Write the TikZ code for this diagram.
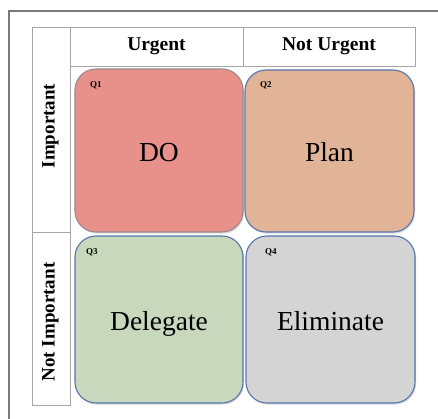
\documentclass[tikz,border=0pt]{standalone}
\usepackage{fontspec}
\setmainfont{Liberation Serif}
\usetikzlibrary{shadows}
\definecolor{frameg}{HTML}{7A7A7A}
\definecolor{tableg}{HTML}{A6A6A6}
\definecolor{qoneF}{HTML}{E8908A}
\definecolor{qtwoF}{HTML}{E1B498}
\definecolor{qthreeF}{HTML}{C8D8BD}
\definecolor{qfourF}{HTML}{D4D4D4}
\definecolor{qblue}{HTML}{5676AE}
\definecolor{qgrey}{HTML}{9A8A8A}
\tikzset{
  cellbox/.style={draw=tableg, line width=0.9pt, inner sep=0pt, font=\bfseries\fontsize{19.5}{20}\selectfont},
  quad/.style={rounded corners=21pt, line width=1.1pt, inner sep=0pt,
    drop shadow={shadow xshift=1.2pt, shadow yshift=-1.6pt, opacity=0.28},
    text height=22pt, text depth=0pt,
    font=\fontsize{27.5}{28}\selectfont},
  qlabel/.style={anchor=base west, inner sep=0pt, font=\bfseries\fontsize{9}{10}\selectfont}
}
\begin{document}
\begin{tikzpicture}[x=1pt,y=1pt]
\useasboundingbox (0,0) rectangle (438,-419);
\fill[white] (0,0) rectangle (438,-419);
% outer frame (only top and left edges visible)
\coordinate (fbl) at (9,-419);
\coordinate (ftl) at (9,-11);
\coordinate (ftr) at (438,-11);
\draw[frameg, line width=1.6pt] (fbl) -- (ftl) -- (ftr);
% header cells
\node[cellbox, minimum width=173pt, minimum height=39pt] (urg) at (156.5,-46.5) {Urgent};
\node[cellbox, minimum width=172pt, minimum height=39pt] (nurg) at (329,-46.5) {Not Urgent};
% side cells
\node[cellbox, minimum width=38pt, minimum height=205pt] (imp) at (51,-129.5) {};
\node[cellbox, minimum width=38pt, minimum height=173pt] (nimp) at (51,-318.5) {};
\node[rotate=90, font=\bfseries\fontsize{19}{20}\selectfont, inner sep=0pt] (impt) at (50.5,-126) {Important};
\node[rotate=90, font=\bfseries\fontsize{19}{20}\selectfont, inner sep=0pt] (nimpt) at (50.5,-322) {Not Important};
% quadrants
\node[quad, draw=qgrey, fill=qoneF, minimum width=168pt, minimum height=163pt] (q1) at (159,-150.5) {DO};
\node[quad, draw=qblue, fill=qtwoF, minimum width=169pt, minimum height=162pt] (q2) at (329.5,-151) {Plan};
\node[quad, draw=qblue, fill=qthreeF, minimum width=168pt, minimum height=167pt] (q3) at (159,-319.5) {Delegate};
\node[quad, draw=qblue, fill=qfourF, minimum width=169pt, minimum height=167pt] (q4) at (330.5,-319.5) {Eliminate};
% quadrant labels
\node[qlabel] (l1) at (90,-88) {Q1};
\node[qlabel] (l2) at (260,-88) {Q2};
\node[qlabel] (l3) at (86,-254) {Q3};
\node[qlabel] (l4) at (265,-254) {Q4};
\end{tikzpicture}
\end{document}
